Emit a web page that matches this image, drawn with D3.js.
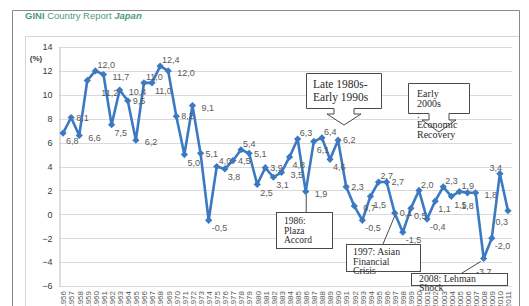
<!DOCTYPE html>
<html>
<head>
<meta charset="utf-8">
<script src="https://cdn.jsdelivr.net/npm/d3@7/dist/d3.min.js"></script>
<style>
  body { margin: 0; background: #fff; }
  svg { display: block; }
</style>
</head>
<body>
<svg id="chart" width="529" height="306"></svg>
<script>
// real GDP growth, Japan, fiscal years
const years = d3.range(1956, 2012);
const growth = [6.8, 8.1, 6.6, 11.2, 12.0, 11.7, 7.5, 10.4, 9.5, 6.2,
    11.0, 11.0, 12.4, 12.0, 8.2, 5.0, 9.1, 5.1, -0.5, 4.0,
    3.8, 4.5, 5.4, 5.1, 2.5, 3.9, 3.1, 3.5, 4.8, 6.3,
    1.9, 6.1, 6.4, 4.6, 6.2, 2.3, 0.7, -0.5, 1.5, 2.7,
    2.7, 0.1, -1.5, 0.5, 2.0, -0.4, 1.1, 2.3, 1.5, 1.9,
    1.8, 1.8, -3.7, -2.0, 3.4, 0.3];
// which side of the marker each data label sits on
const labelSide = ["se", "e", "ee", "fse", "ne", "ee", "se", "ee", "e", "ee",
    "ne", "se", "ne", "ee", "e", "se", "ee", "e", "se", "ne",
    "se", "e", "ne", "e", "se", "e", "se", "ee", "se", "ne",
    "ee", "se", "ne", "se", "e", "e", "ee", "se", "se", "ne",
    "e", "e", "se", "se", "ne", "se", "se", "ne", "se", "ne",
    "s", "ee", "s", "se", "n", "sw"];
const yTicks = [-6, -4, -2, 0, 2, 4, 6, 8, 10, 12, 14];

const svg = d3.select("#chart");
const blue = "#3b79c3";
const labelGray = "#595959";
const serif = "'Liberation Serif', 'Times New Roman', serif";

// page frame + chart frame
svg.append("path")
    .attr("d", "M12.5,306 V10.5 H519.5 V306")
    .attr("fill", "none")
    .attr("stroke", "#8a8a8a");
svg.append("path")
    .attr("d", "M25.5,306 V36.5 H518.5")
    .attr("fill", "none")
    .attr("stroke", "#d4d4d4");

// title
let title = svg.append("text")
    .attr("x", 25)
    .attr("y", 19)
    .style("font-family", "'Liberation Sans', Arial, sans-serif")
    .style("font-size", "9.5px")
    .attr("fill", "#4d9c78");
title.append("tspan").style("font-weight", "bold").text("GINI");
title.append("tspan").text(" Country Report ");
title.append("tspan").style("font-weight", "bold").style("font-style", "italic").text("Japan");

const x = d3.scaleBand().domain(years).range([59, 512]);
const y = d3.scaleLinear().domain([-6, 14]).range([286, 47]);
const cx = d => x(d) + x.bandwidth() / 2;

// grid
svg.append("g")
    .selectAll("line")
    .data(yTicks)
    .enter()
    .append("line")
    .attr("x1", 59)
    .attr("x2", 512)
    .attr("y1", d => Math.round(y(d)) + 0.5)
    .attr("y2", d => Math.round(y(d)) + 0.5)
    .attr("stroke", "#d9d9d9");

// y axis
let yAxis = svg.append("g")
    .attr("transform", "translate(59.5,0)")
    .call(d3.axisLeft(y).tickValues(yTicks).tickSize(0).tickPadding(7));
yAxis.select(".domain").attr("stroke", "#bfbfbf");
yAxis.selectAll("text")
    .style("font-family", "'Liberation Sans', Arial, sans-serif")
    .style("font-size", "9px")
    .attr("fill", "#3a3a3a");

svg.append("text")
    .attr("x", 36)
    .attr("y", 61)
    .attr("text-anchor", "middle")
    .style("font-family", "'Liberation Sans', Arial, sans-serif")
    .style("font-size", "8px")
    .style("font-weight", "bold")
    .attr("fill", "#3a3a3a")
    .text("(%)");

// x labels, rotated, clipped by the bottom of the page
svg.append("g")
    .selectAll("text")
    .data(years)
    .enter()
    .append("text")
    .attr("transform", d => "translate(" + (cx(d) + 0.5) + ",291) rotate(-90)")
    .attr("text-anchor", "end")
    .attr("dy", "0.35em")
    .style("font-family", "'Liberation Sans', Arial, sans-serif")
    .style("font-size", "8px")
    .attr("fill", labelGray)
    .text(d => d);

const points = years.map((yr, i) => ({year: yr, value: growth[i], side: labelSide[i]}));

// line + diamonds
svg.append("path")
    .datum(points)
    .attr("fill", "none")
    .attr("stroke", blue)
    .attr("stroke-width", 2.6)
    .attr("stroke-linejoin", "round")
    .attr("d", d3.line().x(d => cx(d.year)).y(d => y(d.value)));

svg.append("g")
    .selectAll("path")
    .data(points)
    .enter()
    .append("path")
    .attr("d", d3.symbol(d3.symbolSquare, 26))
    .attr("transform", d => "translate(" + cx(d.year) + "," + y(d.value) + ") rotate(45)")
    .attr("fill", blue);

// data labels
const offsets = {
    e: [5, 0, "start"], ee: [9, 2, "start"], se: [3, 8, "start"], fse: [14, 12, "start"],
    ne: [2, -6, "start"], s: [0, 13, "middle"], n: [-4, -6, "middle"], sw: [0, 11, "end"]
};
svg.append("g")
    .selectAll("text")
    .data(points)
    .enter()
    .append("text")
    .attr("x", d => cx(d.year) + offsets[d.side][0])
    .attr("y", d => y(d.value) + offsets[d.side][1])
    .attr("dy", "0.35em")
    .attr("text-anchor", d => offsets[d.side][2])
    .style("font-family", "'Liberation Sans', Arial, sans-serif")
    .style("font-size", "9px")
    .attr("fill", labelGray)
    .text(d => d3.format(".1f")(d.value).replace(".", ",").replace("−", "-"));

// annotations
const noteStroke = "#4a4a4a";
const noteText = "#2b2b2b";

function arrowCallout(x0, y0, x1, y1, tipY, stemY) {
    let mid = (x0 + x1) / 2;
    let pts = [[x0, y0], [x1, y0], [x1, y1], [mid + 10, y1], [mid + 10, stemY],
        [mid + 17, stemY], [mid, tipY], [mid - 17, stemY], [mid - 10, stemY],
        [mid - 10, y1], [x0, y1]];
    svg.append("path")
        .attr("d", "M" + pts.map(p => p.join(",")).join("L") + "Z")
        .attr("fill", "#fff")
        .attr("stroke", noteStroke)
        .attr("stroke-width", 1);
}

function noteLines(lines, x0, y0, step, size) {
    let t = svg.append("text")
        .style("font-family", serif)
        .style("font-size", size + "px")
        .attr("fill", noteText);
    lines.forEach((l, i) => {
        t.append("tspan").attr("x", x0).attr("y", y0 + i * step).text(l);
    });
}

function box(x0, y0, x1, y1) {
    svg.append("rect")
        .attr("x", x0 + 0.5).attr("y", y0 + 0.5)
        .attr("width", x1 - x0).attr("height", y1 - y0)
        .attr("fill", "#fff")
        .attr("stroke", noteStroke);
}

function connector(x0, y0, x1, y1) {
    svg.append("line")
        .attr("x1", x0).attr("y1", y0).attr("x2", x1).attr("y2", y1)
        .attr("stroke", noteStroke);
}

arrowCallout(306.5, 73.5, 381.5, 108.5, 125, 114);
noteLines(["Late 1980s-", "Early 1990s"], 313, 88, 13, 11.5);

arrowCallout(408.5, 83.5, 469.5, 113.5, 132, 120);
noteLines(["Early", "2000s", ":", "Economic", "Recovery"], 417, 97, 10.3, 10);

connector(cx(1986) + 0.5, y(1.9) + 3, cx(1986) + 0.5, 212);
box(276, 212, 332, 248);
noteLines(["1986:", "Plaza", "Accord"], 284, 224, 9.5, 9.5);

connector(cx(1997), y(0.1) + 3, 383, 244);
box(346, 244, 420, 271);
noteLines(["1997: Asian", "Financial", "Crisis"], 353, 255, 9.5, 9.8);

connector(cx(2008) - 3, y(-3.7) + 3, 462, 273);
box(411, 273, 507, 285);
noteLines(["2008: Lehman", "Shock"], 419, 282, 9, 9.8);
</script>
</body>
</html>
